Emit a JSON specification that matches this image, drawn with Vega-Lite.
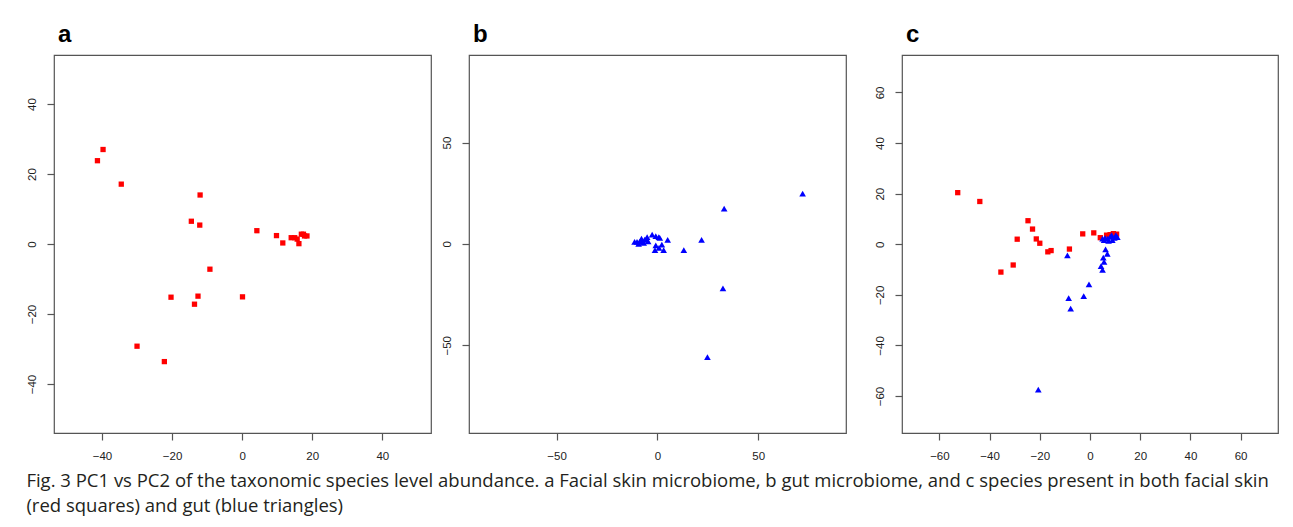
{
  "$schema": "https://vega.github.io/schema/vega-lite/v6.json",
  "padding": {"left": 25, "top": 22, "right": 10, "bottom": 8},
  "background": "white",
  "spacing": 26,
  "datasets": {
    "a": [
      {"x": -39.7, "y": 27.0, "group": "skin"},
      {"x": -41.3, "y": 23.8, "group": "skin"},
      {"x": -34.5, "y": 17.1, "group": "skin"},
      {"x": -12.0, "y": 14.0, "group": "skin"},
      {"x": -14.5, "y": 6.5, "group": "skin"},
      {"x": -12.1, "y": 5.4, "group": "skin"},
      {"x": 4.2, "y": 3.8, "group": "skin"},
      {"x": 9.8, "y": 2.4, "group": "skin"},
      {"x": 11.6, "y": 0.3, "group": "skin"},
      {"x": 14.0, "y": 1.8, "group": "skin"},
      {"x": 15.0, "y": 1.8, "group": "skin"},
      {"x": 15.7, "y": 1.4, "group": "skin"},
      {"x": 16.2, "y": 0.1, "group": "skin"},
      {"x": 16.9, "y": 2.8, "group": "skin"},
      {"x": 17.5, "y": 2.8, "group": "skin"},
      {"x": 17.8, "y": 2.3, "group": "skin"},
      {"x": 18.5, "y": 2.3, "group": "skin"},
      {"x": -9.2, "y": -7.2, "group": "skin"},
      {"x": -20.3, "y": -15.2, "group": "skin"},
      {"x": -12.6, "y": -14.9, "group": "skin"},
      {"x": -13.6, "y": -17.2, "group": "skin"},
      {"x": 0.1, "y": -15.1, "group": "skin"},
      {"x": -30.0, "y": -29.2, "group": "skin"},
      {"x": -22.2, "y": -33.6, "group": "skin"}
    ],
    "b": [
      {"x": 72.0, "y": 24.8, "group": "gut"},
      {"x": 33.1, "y": 17.4, "group": "gut"},
      {"x": 21.9, "y": 2.0, "group": "gut"},
      {"x": 13.1, "y": -3.1, "group": "gut"},
      {"x": 5.1, "y": 2.0, "group": "gut"},
      {"x": 3.1, "y": -3.1, "group": "gut"},
      {"x": 2.2, "y": -0.3, "group": "gut"},
      {"x": 0.8, "y": -2.0, "group": "gut"},
      {"x": -1.2, "y": -3.1, "group": "gut"},
      {"x": -0.8, "y": -0.7, "group": "gut"},
      {"x": 0.7, "y": 3.3, "group": "gut"},
      {"x": 1.2, "y": 3.0, "group": "gut"},
      {"x": -0.8, "y": 3.8, "group": "gut"},
      {"x": -2.6, "y": 4.6, "group": "gut"},
      {"x": -5.1, "y": 3.3, "group": "gut"},
      {"x": -5.5, "y": 2.1, "group": "gut"},
      {"x": -6.3, "y": 2.1, "group": "gut"},
      {"x": -6.8, "y": 0.5, "group": "gut"},
      {"x": -7.5, "y": 1.3, "group": "gut"},
      {"x": -7.9, "y": 2.6, "group": "gut"},
      {"x": -8.8, "y": 1.0, "group": "gut"},
      {"x": -9.3, "y": 0.0, "group": "gut"},
      {"x": -10.1, "y": 1.0, "group": "gut"},
      {"x": -11.3, "y": 1.0, "group": "gut"},
      {"x": -4.6, "y": 1.3, "group": "gut"},
      {"x": 32.5, "y": -22.0, "group": "gut"},
      {"x": 24.8, "y": -55.9, "group": "gut"}
    ],
    "c": [
      {"x": -52.7, "y": 20.4, "group": "skin"},
      {"x": -43.9, "y": 16.9, "group": "skin"},
      {"x": -24.7, "y": 9.3, "group": "skin"},
      {"x": -22.9, "y": 6.0, "group": "skin"},
      {"x": -29.0, "y": 2.0, "group": "skin"},
      {"x": -21.4, "y": 2.1, "group": "skin"},
      {"x": -20.0, "y": 0.4, "group": "skin"},
      {"x": -16.8, "y": -3.0, "group": "skin"},
      {"x": -15.5, "y": -2.5, "group": "skin"},
      {"x": -8.2, "y": -1.9, "group": "skin"},
      {"x": -2.9, "y": 4.1, "group": "skin"},
      {"x": 1.5, "y": 4.5, "group": "skin"},
      {"x": 4.1, "y": 2.6, "group": "skin"},
      {"x": -30.6, "y": -8.2, "group": "skin"},
      {"x": -35.5, "y": -11.0, "group": "skin"},
      {"x": 6.6, "y": 3.6, "group": "skin"},
      {"x": 9.3, "y": 4.2, "group": "skin"},
      {"x": 10.6, "y": 4.0, "group": "skin"},
      {"x": 8.0, "y": 3.8, "group": "skin"},
      {"x": -9.0, "y": -4.4, "group": "gut"},
      {"x": -8.5, "y": -21.3, "group": "gut"},
      {"x": -7.7, "y": -25.4, "group": "gut"},
      {"x": -2.5, "y": -20.5, "group": "gut"},
      {"x": -0.4, "y": -15.9, "group": "gut"},
      {"x": -20.6, "y": -57.5, "group": "gut"},
      {"x": 5.0, "y": -10.1, "group": "gut"},
      {"x": 4.4, "y": -8.6, "group": "gut"},
      {"x": 5.6, "y": -7.0, "group": "gut"},
      {"x": 5.3, "y": -5.3, "group": "gut"},
      {"x": 6.9, "y": -3.8, "group": "gut"},
      {"x": 6.2, "y": -2.0, "group": "gut"},
      {"x": 5.0, "y": 2.2, "group": "gut"},
      {"x": 6.0, "y": 2.5, "group": "gut"},
      {"x": 7.0, "y": 2.2, "group": "gut"},
      {"x": 8.0, "y": 2.9, "group": "gut"},
      {"x": 8.9, "y": 1.6, "group": "gut"},
      {"x": 9.7, "y": 2.5, "group": "gut"},
      {"x": 10.3, "y": 3.6, "group": "gut"},
      {"x": 10.9, "y": 2.8, "group": "gut"},
      {"x": 8.6, "y": 3.6, "group": "gut"},
      {"x": 7.4, "y": 1.3, "group": "gut"},
      {"x": 5.6, "y": 1.6, "group": "gut"}
    ]
  },
  "title": {
    "text": ["Fig. 3  PC1 vs PC2 of the taxonomic species level abundance. a Facial skin microbiome, b gut microbiome, and c species present in both facial skin", "(red squares) and gut (blue triangles)"],
    "orient": "bottom",
    "anchor": "start",
    "frame": "bounds",
    "font": "Open Sans",
    "fontSize": 18.5,
    "fontWeight": "normal",
    "color": "#231f20",
    "lineHeight": 25,
    "offset": 10,
    "dx": 1
  },
  "hconcat": [
    {
      "spacing": 8,
      "hconcat": [
        {
          "width": 377,
          "height": 378,
          "title": {"text": "a"},
          "data": {"name": "a"},
          "mark": {"type": "point", "filled": true, "opacity": 1},
          "encoding": {
            "x": {"field": "x", "type": "quantitative", "title": null,
                  "scale": {"domain": [-53.7, 53.9], "nice": false, "zero": false},
                  "axis": {"values": [-40, -20, 0, 20, 40]}},
            "y": {"field": "y", "type": "quantitative", "title": null,
                  "scale": {"domain": [-54, 54], "nice": false, "zero": false},
                  "axis": {"values": [-40, -20, 0, 20, 40]}},
            "color": {"field": "group", "type": "nominal", "legend": null,
                      "scale": {"domain": ["skin", "gut"], "range": ["#ff0000", "#0000ff"]}},
            "shape": {"field": "group", "type": "nominal", "legend": null,
                      "scale": {"domain": ["skin", "gut"], "range": ["square", "triangle-up"]}},
            "size": {"field": "group", "type": "nominal", "legend": null,
                     "scale": {"domain": ["skin", "gut"], "range": [28, 44]}}
          }
        },
        {
          "width": 377,
          "height": 378,
          "title": {"text": "b"},
          "data": {"name": "b"},
          "mark": {"type": "point", "filled": true, "opacity": 1},
          "encoding": {
            "x": {"field": "x", "type": "quantitative", "title": null,
                  "scale": {"domain": [-93.4, 93.5], "nice": false, "zero": false},
                  "axis": {"values": [-50, 0, 50]}},
            "y": {"field": "y", "type": "quantitative", "title": null,
                  "scale": {"domain": [-93.3, 93.2], "nice": false, "zero": false},
                  "axis": {"values": [-50, 0, 50]}},
            "color": {"field": "group", "type": "nominal", "legend": null,
                      "scale": {"domain": ["skin", "gut"], "range": ["#ff0000", "#0000ff"]}},
            "shape": {"field": "group", "type": "nominal", "legend": null,
                      "scale": {"domain": ["skin", "gut"], "range": ["square", "triangle-up"]}},
            "size": {"field": "group", "type": "nominal", "legend": null,
                     "scale": {"domain": ["skin", "gut"], "range": [28, 44]}}
          }
        }
      ]
    },
    {
      "width": 376,
      "height": 378,
      "title": {"text": "c"},
      "data": {"name": "c"},
      "mark": {"type": "point", "filled": true, "opacity": 1},
      "encoding": {
        "x": {"field": "x", "type": "quantitative", "title": null,
              "scale": {"domain": [-74.9, 74.9], "nice": false, "zero": false},
              "axis": {"values": [-60, -40, -20, 0, 20, 40, 60]}},
        "y": {"field": "y", "type": "quantitative", "title": null,
              "scale": {"domain": [-74.6, 74.8], "nice": false, "zero": false},
              "axis": {"values": [-60, -40, -20, 0, 20, 40, 60]}},
        "color": {"field": "group", "type": "nominal", "legend": null,
                  "scale": {"domain": ["skin", "gut"], "range": ["#ff0000", "#0000ff"]}},
        "shape": {"field": "group", "type": "nominal", "legend": null,
                  "scale": {"domain": ["skin", "gut"], "range": ["square", "triangle-up"]}},
        "size": {"field": "group", "type": "nominal", "legend": null,
                 "scale": {"domain": ["skin", "gut"], "range": [28, 44]}}
      }
    }
  ],
  "config": {
    "view": {"stroke": "#555555", "strokeWidth": 1.2},
    "axis": {
      "domain": false,
      "grid": false,
      "tickColor": "#555555",
      "tickSize": 7,
      "tickWidth": 1.2,
      "labelPadding": 10,
      "labelFont": "Liberation Sans",
      "labelFontSize": 11.5,
      "labelColor": "#222222"
    },
    "axisY": {"labelAngle": 270, "labelAlign": "center", "labelBaseline": "bottom"},
    "title": {
      "anchor": "start",
      "frame": "group",
      "font": "Liberation Sans",
      "fontSize": 24,
      "fontWeight": "bold",
      "color": "#000000",
      "offset": 8,
      "dx": 4
    }
  }
}
